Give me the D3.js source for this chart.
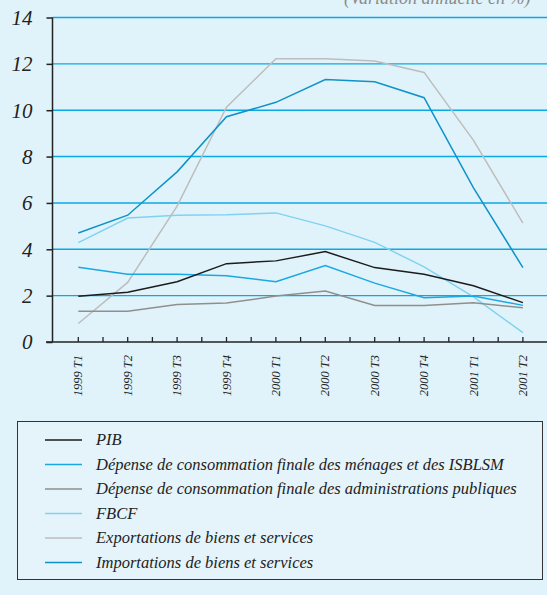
<!DOCTYPE html>
<html>
<head>
<meta charset="utf-8">
<script src="https://cdn.jsdelivr.net/npm/d3@7"></script>
</head>
<body style="margin:0;background:#e1f3fa">
<svg id="chart" width="547" height="595"></svg>
<script>
const quarters = ["1999 T1", "1999 T2", "1999 T3", "1999 T4", "2000 T1", "2000 T2", "2000 T3", "2000 T4", "2001 T1", "2001 T2"];
const yTicks = [0, 2, 4, 6, 8, 10, 12, 14];

const pib = [1.97, 2.15, 2.6, 3.38, 3.5, 3.9, 3.21, 2.92, 2.43, 1.7];
const menages = [3.22, 2.92, 2.92, 2.86, 2.6, 3.3, 2.54, 1.91, 1.98, 1.58];
const admin = [1.33, 1.33, 1.62, 1.68, 1.98, 2.2, 1.58, 1.58, 1.69, 1.48];
const fbcf = [4.29, 5.35, 5.47, 5.49, 5.57, 5.01, 4.3, 3.24, 1.95, 0.4];
const exportations = [0.8, 2.57, 5.86, 10.13, 12.22, 12.22, 12.12, 11.63, 8.7, 5.13];
const importations = [4.7, 5.47, 7.34, 9.72, 10.34, 11.32, 11.23, 10.54, 6.65, 3.21];

const seriesNames = [
  "PIB",
  "Dépense de consommation finale des ménages et des ISBLSM",
  "Dépense de consommation finale des administrations publiques",
  "FBCF",
  "Exportations de biens et services",
  "Importations de biens et services"
];
const seriesColors = ["#1c1c1c", "#1aa8e2", "#8f8f8f", "#7fd2f2", "#bdbdbd", "#0d93c9"];

const series = [pib, menages, admin, fbcf, exportations, importations].map((vals, i) => ({
  name: seriesNames[i], color: seriesColors[i], values: vals
}));
// draw order so the dark lines sit on top
const drawOrder = [4, 3, 2, 5, 1, 0];

// serif italic text helper
function serifText(sel, size) {
  return sel
    .attr("font-family", "Liberation Serif")
    .attr("font-style", "italic")
    .attr("font-size", size)
    .style("font-family", d => '"Liberation Serif"');
}

const svg = d3.select("svg#chart");
const width = +svg.attr("width");

const xScale = d3.scalePoint().domain(quarters).range([78.3, 522.9]);
const yScale = d3.scaleLinear().domain([0, 14]).range([342, 17.5]);
const axisX = 52.5;

// background
svg.append("rect").attr("width", width).attr("height", 595).attr("fill", "#e1f3fa");

// title, cut off by the top edge
serifText(svg.append("text")
  .text("(Variation annuelle en %)")
  .attr("x", 344).attr("y", 3.5)
  .attr("fill", "#8a8a8a"), 18);

// gridlines
svg.append("g")
  .selectAll("line")
  .data(yTicks.filter(d => d > 0))
  .join("line")
  .attr("x1", axisX).attr("x2", width)
  .attr("y1", d => yScale(d)).attr("y2", d => yScale(d))
  .attr("stroke", "#0aa9e6")
  .attr("stroke-width", 1.4);

// y axis
const leftAxis = d3.axisLeft(yScale).tickValues(yTicks).tickSize(6).tickPadding(14);
const gy = svg.append("g")
  .attr("transform", `translate(${axisX},0)`)
  .call(leftAxis)
  .attr("font-family", "Liberation Serif");
gy.select(".domain").attr("stroke", "#222").attr("stroke-width", 1.5).attr("d", `M0,${yScale(14)}V${yScale(0)}`);
gy.selectAll(".tick line").attr("stroke", "#222").attr("stroke-width", 1.5);
serifText(gy.selectAll(".tick text"), 21)
  .attr("fill", "#222")
  .attr("dy", "0.33em");

// x axis: ticks at quarters and half-way, pointing up
const step = xScale.step();
const xTicks = [];
quarters.forEach((q, i) => {
  xTicks.push(xScale(q));
  if (i < quarters.length - 1) xTicks.push(xScale(q) + step / 2);
});
const gx = svg.append("g");
gx.append("line")
  .attr("x1", 46).attr("x2", width)
  .attr("y1", yScale(0)).attr("y2", yScale(0))
  .attr("stroke", "#222").attr("stroke-width", 1.5);
gx.selectAll("line.tk")
  .data(xTicks)
  .join("line")
  .attr("class", "tk")
  .attr("x1", d => d).attr("x2", d => d)
  .attr("y1", yScale(0)).attr("y2", yScale(0) - 5)
  .attr("stroke", "#222").attr("stroke-width", 1.3);
serifText(gx.selectAll("text")
  .data(quarters)
  .join("text")
  .text(d => d)
  .attr("transform", d => `translate(${xScale(d) + 4},355) rotate(-90)`)
  .attr("text-anchor", "end")
  .attr("fill", "#222"), 12.5);

// lines
const line = d3.line()
  .x((d, i) => xScale(quarters[i]))
  .y(d => yScale(d));

svg.append("g")
  .selectAll("path")
  .data(drawOrder.map(i => series[i]))
  .join("path")
  .attr("d", d => line(d.values))
  .attr("fill", "none")
  .attr("stroke", d => d.color)
  .attr("stroke-width", 1.5);

// legend
const legend = svg.append("g");
legend.append("rect")
  .attr("x", 17.5).attr("y", 421.5)
  .attr("width", 525).attr("height", 158)
  .attr("fill", "#e4f4fa")
  .attr("stroke", "#333").attr("stroke-width", 1);

const rows = legend.selectAll("g.row")
  .data(series)
  .join("g")
  .attr("class", "row")
  .attr("transform", (d, i) => `translate(0,${440 + i * 24.5})`);
rows.append("line")
  .attr("x1", 45).attr("x2", 82)
  .attr("stroke", d => d.color).attr("stroke-width", 1.5);
serifText(rows.append("text")
  .text(d => d.name)
  .attr("x", 96).attr("y", 5)
  .attr("fill", "#222"), 16.5);
</script>
</body>
</html>
